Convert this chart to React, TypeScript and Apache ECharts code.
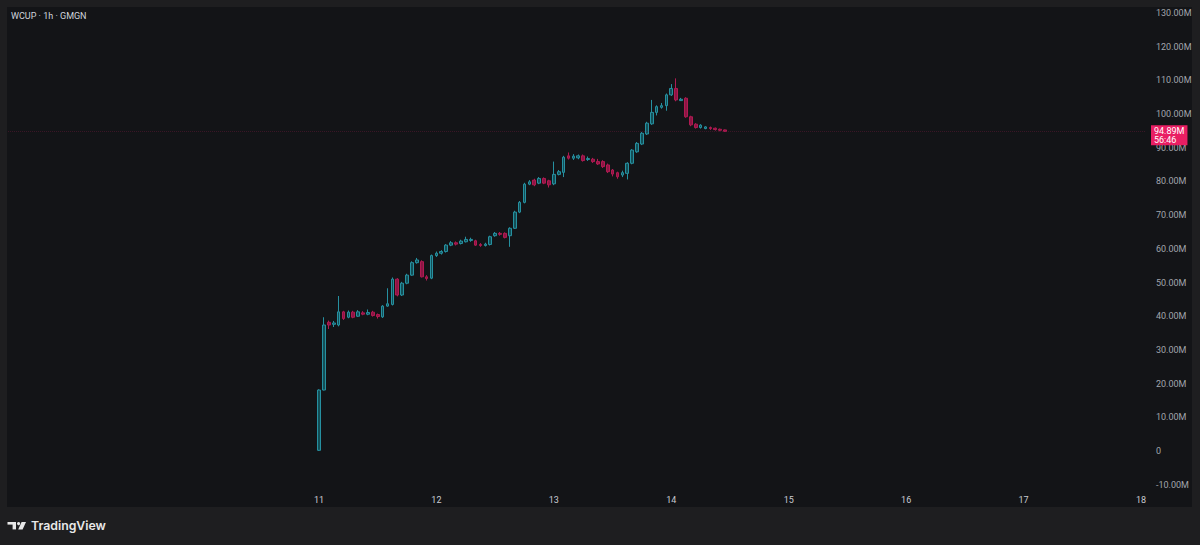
import React, { useEffect, useRef } from "react";
import * as echarts from "echarts";

// ---- data (values in millions) ----
const title = "WCUP · 1h · GMGN";
const startHour = 0; // first candle: day 11, 00:00
const opens = [0.2,18.1,38.2,37.6,37.4,41.3,39.7,41.2,40.0,41.0,40.6,41.2,40.5,39.8,43.0,43.5,51.0,46.3,49.8,52.2,55.9,56.2,51.7,51.3,58.0,58.7,59.2,61.1,61.8,61.6,62.1,62.5,62.4,61.3,61.0,61.3,63.9,64.6,64.6,63.9,66.1,70.9,73.8,79.2,80.4,79.5,80.9,80.2,79.3,82.1,82.7,87.6,86.9,87.0,87.6,86.5,86.6,85.9,85.9,84.9,83.4,82.6,81.9,82.4,85.4,88.8,91.1,94.1,97.1,100.5,102.0,102.5,105.7,107.6,104.0,104.7,99.2,97.0,96.0,95.7,96.0,95.8,95.5,95.3];
const closes = [18.1,37.4,37.4,38.0,41.3,39.3,41.2,39.7,41.3,40.6,41.1,40.2,39.9,43.0,43.7,51.0,46.3,49.8,52.2,55.9,56.7,51.7,51.2,58.0,58.7,59.2,61.1,61.8,61.4,62.3,62.8,62.8,61.1,61.0,61.4,63.6,64.6,64.3,63.4,66.1,70.9,73.8,79.2,79.9,79.0,80.9,79.5,79.0,82.1,82.9,87.2,86.9,87.5,87.6,86.2,86.8,85.9,85.2,84.4,82.9,82.2,81.4,82.6,85.4,89.3,91.3,94.3,97.3,100.5,102.2,102.5,105.7,107.6,104.2,104.4,99.2,96.8,96.0,96.7,96.2,95.7,95.4,95.2,94.89];
const lows = [0,18.0,36.2,36.8,37.0,38.9,39.4,39.4,39.8,40.3,40.3,39.9,39.3,39.5,42.8,43.2,45.9,46.0,49.5,52.0,55.6,51.5,50.6,51.0,57.6,58.3,58.9,60.8,61.0,61.3,61.9,62.1,60.9,60.6,60.7,61.0,63.6,63.9,63.1,60.6,65.9,70.6,73.5,78.9,78.6,79.2,79.2,78.2,78.9,81.8,81.3,86.5,86.4,86.6,85.9,86.1,85.5,84.9,84.0,82.5,81.5,80.8,81.3,80.6,85.1,88.5,90.8,93.8,96.8,99.6,101.6,101.0,105.4,103.8,103.9,98.9,96.4,95.7,95.7,95.5,95.3,95.1,94.9,94.8];
const highs = [18.3,39.7,38.7,38.6,46.0,41.6,41.7,41.6,41.8,41.5,42.0,41.6,40.8,43.3,48.3,51.5,51.3,50.2,52.6,56.3,57.3,56.6,52.2,58.3,59.2,59.6,61.4,62.3,62.2,62.7,63.6,63.3,62.7,61.7,61.8,63.9,65.0,65.0,64.9,66.4,71.3,74.2,79.6,80.4,80.8,81.3,81.2,80.5,85.9,83.4,87.6,88.6,88.1,88.0,88.0,87.4,87.0,86.7,86.3,85.3,83.7,82.9,83.2,85.7,89.6,91.7,94.7,97.7,104.2,102.6,103.3,106.1,108.9,110.6,104.8,105.0,99.5,97.3,97.0,96.4,96.3,96.0,95.7,95.4];
const dayTickHours = [0, 24, 48, 72, 96, 120, 144, 168];
const dayLabels = ["11", "12", "13", "14", "15", "16", "17", "18"];
const priceTicks = [-10, 0, 10, 20, 30, 40, 50, 60, 70, 80, 90, 100, 110, 120, 130];
const lastPrice = 94.89;
const countdown = "56:46";

const UP_FILL = "#134f57";
const UP_BORDER = "#2690a0";
const DOWN_FILL = "#8c1644";
const DOWN_BORDER = "#b01a52";

export default function App() {
  const ref = useRef<HTMLDivElement>(null);

  useEffect(() => {
    document.body.style.margin = "0";
    const chart = echarts.init(ref.current!, null, { renderer: "svg" });
    const candles = opens.map((o, i) => [startHour + i, o, closes[i], lows[i], highs[i]]);
    const font = "Roboto, 'DejaVu Sans', sans-serif";

    chart.setOption({
      animation: false,
      backgroundColor: "transparent",
      grid: { left: 8, top: 7, width: 1138, height: 483, containLabel: false },
      xAxis: {
        type: "value",
        min: -63.56,
        max: 169.02,
        axisLine: { show: false },
        axisTick: { show: false },
        splitLine: { show: false },
        axisLabel: {
          customValues: dayTickHours,
          formatter: (v: number) => dayLabels[dayTickHours.indexOf(v)] ?? "",
          color: "#c9cbd2",
          fontSize: 9,
          fontFamily: font,
          margin: 5,
        },
      },
      yAxis: {
        type: "value",
        position: "right",
        min: -11.575,
        max: 131.78,
        axisLine: { show: false },
        axisTick: { show: false },
        splitLine: { show: false },
        axisLabel: {
          customValues: priceTicks,
          formatter: (v: number) => (v === 0 ? "0" : `${v.toFixed(2)}M`),
          color: "#a2a5ad",
          fontSize: 9,
          fontFamily: font,
          margin: 10,
        },
      },
      series: [
        {
          type: "candlestick",
          data: candles,
          encode: { x: 0, y: [1, 2, 3, 4] },
          barWidth: 3.2,
          itemStyle: {
            color: UP_FILL,
            color0: DOWN_FILL,
            borderColor: UP_BORDER,
            borderColor0: DOWN_BORDER,
            borderWidth: 1,
          },
          markLine: {
            symbol: "none",
            silent: true,
            lineStyle: { color: "rgba(176,26,82,0.25)", type: "dotted", width: 1 },
            label: {
              position: "end",
              formatter: `${lastPrice.toFixed(2)}M\n${countdown}`,
              backgroundColor: "#e91e63",
              color: "#ffffff",
              fontSize: 9,
              lineHeight: 9,
              fontFamily: font,
              padding: [1, 3, 1, 3],
              distance: 5,
              offset: [0, 4],
            },
            data: [{ yAxis: lastPrice }],
          },
        },
      ],
      graphic: [
        {
          type: "text",
          left: 11,
          top: 11,
          style: { text: title, fill: "#d1d4dc", fontSize: 9, fontFamily: font },
        },
        {
          type: "rect",
          shape: { x: 7.5, y: 522, width: 8.5, height: 2.6 },
          style: { fill: "#e8e8e8" },
        },
        {
          type: "rect",
          shape: { x: 12.6, y: 522, width: 3.4, height: 7.4 },
          style: { fill: "#e8e8e8" },
        },
        {
          type: "circle",
          shape: { cx: 18.6, cy: 523.6, r: 1.6 },
          style: { fill: "#e8e8e8" },
        },
        {
          type: "polygon",
          shape: { points: [[21.6, 522], [26, 522], [22.6, 529.4], [18.2, 529.4]] },
          style: { fill: "#e8e8e8" },
        },
        {
          type: "text",
          left: 31,
          top: 519.5,
          style: {
            text: "TradingView",
            fill: "#e8e8e8",
            fontSize: 12.3,
            fontWeight: 600,
            fontFamily: "Inter, Roboto, sans-serif",
          },
        },
      ],
    });
    return () => chart.dispose();
  }, []);

  return (
    <div style={{ position: "relative", width: 1200, height: 545, background: "#1e1e20", overflow: "hidden" }}>
      <div
        style={{
          position: "absolute",
          left: 7,
          top: 7,
          width: 1185,
          height: 500,
          background: "#131417",
        }}
      />
      <div ref={ref} style={{ position: "absolute", left: 0, top: 0, width: 1200, height: 545 }} />
    </div>
  );
}
